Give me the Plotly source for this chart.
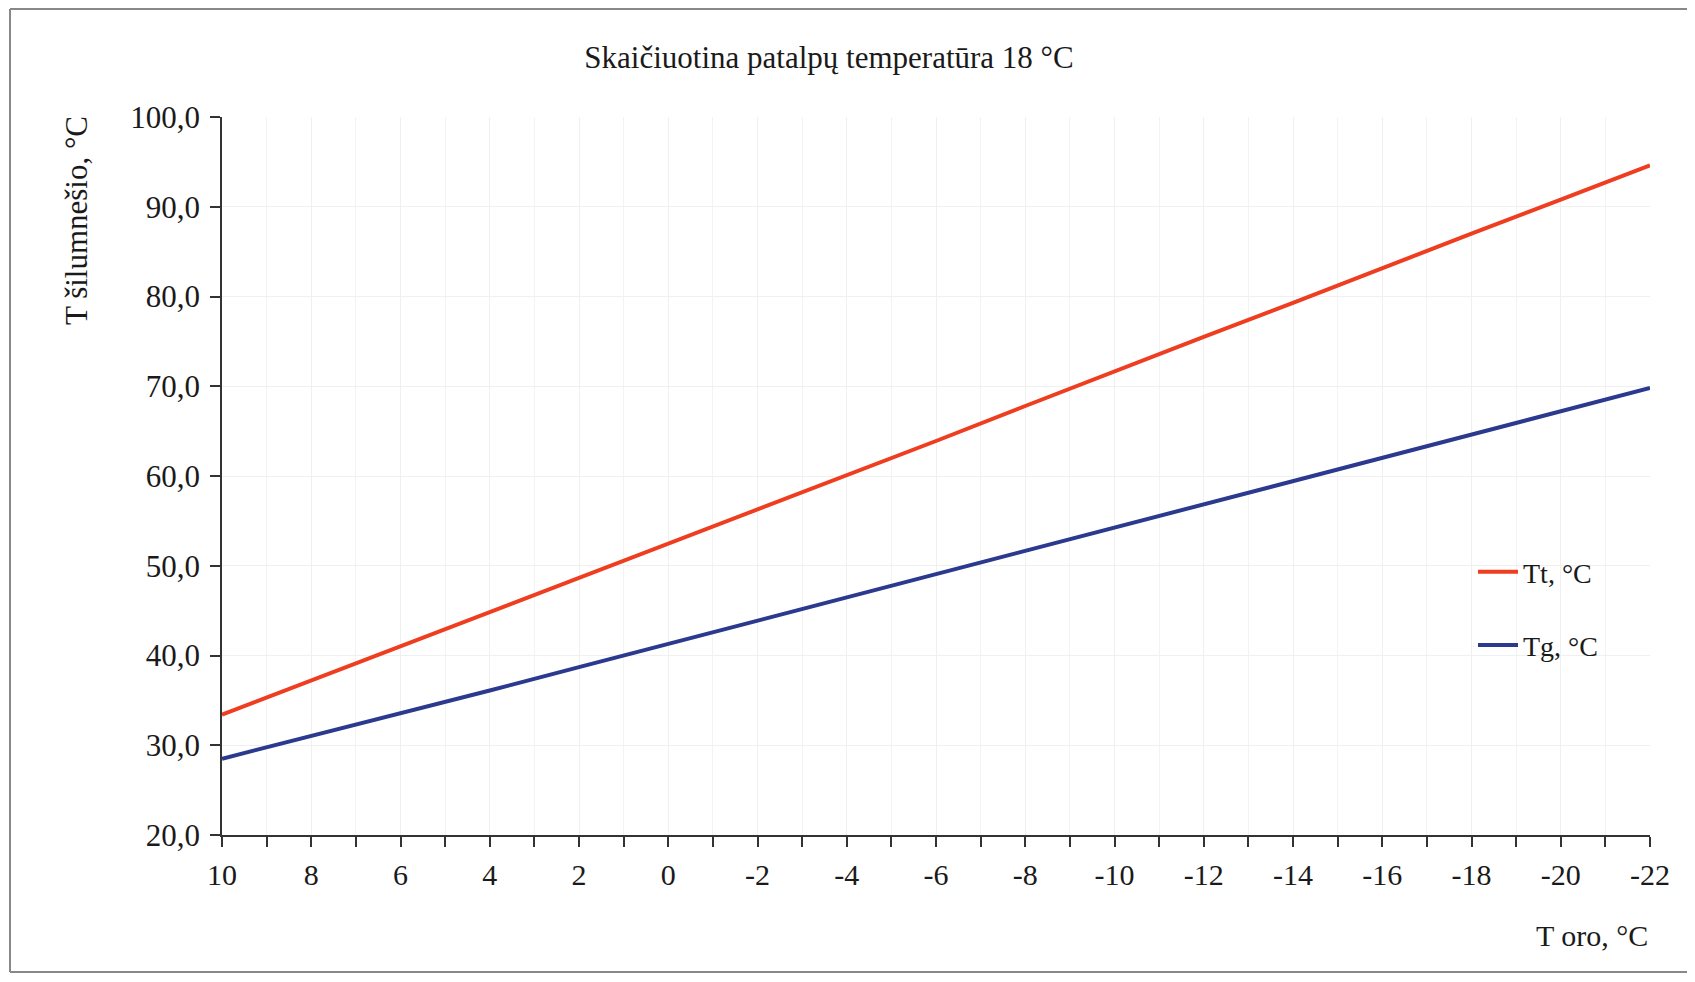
import plotly.graph_objects as go

# Outdoor temperature (x) and supply/return temperatures
t_oro = [10, 8, 6, 4, 2, 0, -2, -4, -6, -8, -10, -12, -14, -16, -18, -20, -22]
tt_vals = [33.4, 37.2, 41.0, 44.8, 48.7, 52.5, 56.3, 60.1, 63.9, 67.8, 71.7, 75.5, 79.3, 83.2, 87.0, 90.8, 94.6]
tg_vals = [28.5, 31.0, 33.6, 36.1, 38.7, 41.3, 43.8, 46.4, 49.0, 51.6, 54.3, 56.8, 59.4, 62.0, 64.6, 67.2, 69.8]

x_tick_vals = [10, 8, 6, 4, 2, 0, -2, -4, -6, -8, -10, -12, -14, -16, -18, -20, -22]
x_tick_text = ["10", "8", "6", "4", "2", "0", "-2", "-4", "-6", "-8", "-10", "-12", "-14", "-16", "-18", "-20", "-22"]
y_tick_vals = [20, 30, 40, 50, 60, 70, 80, 90, 100]

FONT = "Liberation Serif, Times New Roman, serif"
RED = "#EF3D1F"
BLUE = "#2B3A8E"

fig = go.Figure()
fig.add_trace(go.Scatter(x=t_oro, y=tt_vals, mode="lines", name="Tt, °C",
                         line=dict(color=RED, width=4), legendgroup="a"))
fig.add_trace(go.Scatter(x=t_oro, y=tg_vals, mode="lines", name="Tg, °C",
                         line=dict(color=BLUE, width=4), legendgroup="b"))

OFF = 8  # page body margin offset
W, H = 1695 - 2 * OFF, 982 - 2 * OFF  # fits the window without scrolling
# desired plot-area edges on screen
SX0, SX1, SY0, SY1 = 222, 1650, 117, 835
L = SX0 - OFF
T = SY0 - OFF
R = W - (SX1 - OFF)
B = H - (SY1 - OFF)
pw = W - L - R
ph = H - T - B

def px(xs):
    return (xs - SX0) / pw

def py(ys):
    return (SY1 - ys) / ph

frame = dict(color="#888", width=2)

fig.update_layout(
    width=W, height=H,
    margin=dict(l=L, r=R, t=T, b=B, autoexpand=False),
    paper_bgcolor="white", plot_bgcolor="white",
    separators=",.",
    font=dict(family=FONT, size=28, color="#1a1a1a"),
    title=dict(text="Skaičiuotina patalpų temperatūra 18 °C", x=(829 - OFF) / W, xanchor="center",
               y=1 - (57 - OFF) / H, yanchor="middle", font=dict(size=31, family=FONT)),
    showlegend=True,
    legend=dict(x=px(1473), xanchor="left", y=py(547), yanchor="top",
                bgcolor="rgba(0,0,0,0)", font=dict(size=28, family=FONT),
                tracegroupgap=34, traceorder="grouped", itemwidth=40),
    xaxis=dict(range=[10, -22], tickvals=x_tick_vals, ticktext=x_tick_text,
               showline=True, linecolor="#333", linewidth=1.5,
               ticks="outside", ticklen=10, tickcolor="#333", tickwidth=1.5,
               showgrid=True, gridcolor="#F0F0F0", gridwidth=1, zeroline=False,
               minor=dict(dtick=1, tick0=0, ticks="outside", ticklen=10, tickcolor="#333",
                          tickwidth=1.5, showgrid=True, gridcolor="#F3F3F3"),
               tickfont=dict(size=30, family=FONT), ticklabelstandoff=2, automargin=False),
    yaxis=dict(range=[20, 100], tickvals=y_tick_vals, tickformat=".1f",
               showline=True, linecolor="#333", linewidth=1.5,
               ticks="outside", ticklen=10, tickcolor="#333", tickwidth=1.5,
               showgrid=True, gridcolor="#F0F0F0", gridwidth=1, zeroline=False,
               tickfont=dict(size=31, family=FONT), ticklabelstandoff=4, automargin=False),
    annotations=[
        dict(text="T oro, °C", xref="paper", yref="paper", x=px(1650), y=py(935),
             xanchor="right", yanchor="middle", showarrow=False,
             font=dict(size=30, family=FONT)),
        dict(text="T šilumnešio, °C", xref="paper", yref="paper", x=px(76), y=py(221),
             xanchor="center", yanchor="middle", textangle=-90, showarrow=False,
             font=dict(size=31, family=FONT)),
    ],
    shapes=[
        dict(type="line", xref="paper", yref="paper", x0=px(10), x1=px(1695), y0=py(9), y1=py(9),
             line=frame, layer="below"),
        dict(type="line", xref="paper", yref="paper", x0=px(10), x1=px(10), y0=py(9), y1=py(972),
             line=frame, layer="below"),
        dict(type="line", xref="paper", yref="paper", x0=px(10), x1=px(1695), y0=py(972), y1=py(972),
             line=frame, layer="below"),
    ],
)

fig.write_html("out.html")
